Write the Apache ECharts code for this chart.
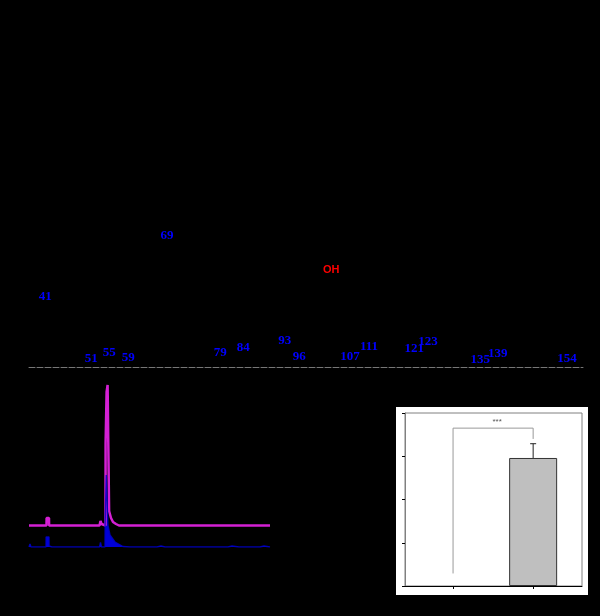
<!DOCTYPE html>
<html>
<head>
<meta charset="utf-8">
<style>html,body{margin:0;padding:0;background:#000}#c{width:600px;height:616px}</style>
<script src="https://cdn.jsdelivr.net/npm/echarts@6/dist/echarts.min.js"></script>
</head>
<body>
<div id="c"></div>
<script>
// Mass spectrum
const peakLabels = ['41','51','55','59','69','79','84','93','96','107','111','121','123','135','139','154'];
const peakMz = [41,51,54.9,59,67.4,78.9,83.9,92.9,96,107,111.1,120.9,123.9,135.2,139,154];
const peakIntensity = [50.4,1.6,6.3,2.4,98.4,6.3,10.2,15.7,3.1,3.1,11,9.4,14.9,0.8,5.5,1.6];

// Chromatograms (time, signal)
const magentaTime = [0,1.75,1.76,2.0,2.01,7.05,7.15,7.25,7.4,7.65,7.66,7.75,7.76,7.85,7.86,8.0,8.01,8.2,8.4,8.7,9,16.65,16.7,16.75,20.2,20.3,20.4,24.1];
const magentaSignal = [21.5,21.5,29,29,21.5,21.5,26,23,21.5,21.5,104,104,155,155,162,162,36,29,25,23,21.5,21.5,23,21.5,21.5,23.5,21.5,21.5];
const blueTime = [0,0.1,0.2,1.7,1.71,2.0,2.01,2.3,3.1,3.2,3.3,4.2,4.3,4.4,7.05,7.15,7.25,7.6,7.61,7.72,7.73,7.88,7.89,8.05,8.1,8.6,9.4,10.1,12.8,13,13.2,13.6,16.6,16.7,16.8,17.5,17.6,19.9,20.3,20.5,21,21.8,22,23.1,23.5,24.1];
const blueSignal = [0,3,0,0,10,10,1,0,0,1.5,0,0,1,0,0,4.5,0,0,22,22,72,72,22,22,12,5,0.5,0,0,1.5,1,0,0,1.5,0,0,1,0,1,1.5,0,0,1,0,1,0];

// Bar panel
const groupPos = [1,2];
const groupValue = [0,29.6];
const groupError = [0,3.3];
const bracketX = [1,1,2,2];
const bracketY = [2.9,36.5,36.5,34];
const sigLabel = '***';

const zip = (a,b)=>a.map((v,i)=>[v,b[i]]);
const chart = echarts.init(document.getElementById('c'), null, {renderer:'canvas'});
chart.setOption({
  animation:false,
  backgroundColor:'#000',
  graphic:[
    {type:'rect',z:-10,shape:{x:396,y:407,width:192,height:188},style:{fill:'#fff'}},
    {type:'text',left:323,top:264,z:5,style:{text:'OH',fill:'#f00',font:'bold 11px "Liberation Sans"'}},
    {type:'text',left:492.5,top:418,z:5,style:{text:sigLabel,fill:'#555',font:'8px "Liberation Sans"'}}
  ],
  grid:[
    {left:29,top:240,width:554,height:127},
    {left:29,top:377,width:241,height:170},
    {left:405,top:413,width:177,height:173,show:true,borderColor:'#808080',borderWidth:1,backgroundColor:'#fff'}
  ],
  xAxis:[
    {gridIndex:0,type:'value',min:37.5,max:157.45,splitLine:{show:false},axisTick:{show:false},axisLabel:{show:false},
      axisLine:{show:true,lineStyle:{color:'#777',width:1,type:[6,2]}}},
    {gridIndex:1,type:'value',min:0,max:24.1,show:false},
    {gridIndex:2,type:'value',min:0.4,max:2.61,splitLine:{show:false},
      axisLine:{show:true,onZero:false,lineStyle:{color:'#000',width:1}},
      axisTick:{show:true,length:3,customValues:groupPos,lineStyle:{color:'#000'}},
      axisLabel:{show:false,customValues:groupPos}}
  ],
  yAxis:[
    {gridIndex:0,type:'value',min:0,max:100,show:false},
    {gridIndex:1,type:'value',min:0,max:170,show:false},
    {gridIndex:2,type:'value',min:0,max:40,interval:10,splitLine:{show:false},
      axisLine:{show:true,lineStyle:{color:'#808080',width:1}},
      axisTick:{show:true,length:3,lineStyle:{color:'#000'}},axisLabel:{show:false}}
  ],
  series:[
    {type:'bar',xAxisIndex:0,yAxisIndex:0,barWidth:1,silent:true,
      itemStyle:{color:'#000'},
      data:peakMz.map((m,i)=>({value:[m,peakIntensity[i]],
        label:{show:true,position:'top',distance:0,formatter:peakLabels[i],color:'#0000ff',
          fontFamily:'Liberation Serif',fontWeight:'bold',fontSize:13}}))},
    {type:'line',xAxisIndex:1,yAxisIndex:1,showSymbol:false,silent:true,
      lineStyle:{color:'#d420d4',width:2.5,cap:'butt',join:'bevel'},data:zip(magentaTime,magentaSignal)},
    {type:'line',xAxisIndex:1,yAxisIndex:1,showSymbol:false,silent:true,
      lineStyle:{color:'#0000c8',width:1.4,opacity:.85,join:'bevel'},
      areaStyle:{color:'#0000f0',opacity:.9,origin:'start'},data:zip(blueTime,blueSignal)},
    {type:'bar',xAxisIndex:2,yAxisIndex:2,barWidth:48,silent:true,
      itemStyle:{color:'#bfbfbf',borderColor:'#333',borderWidth:1},
      data:zip(groupPos,groupValue).filter(d=>d[1]>0)},
    {type:'custom',xAxisIndex:2,yAxisIndex:2,silent:true,
      data:groupPos.map((p,i)=>[p,groupValue[i],groupValue[i]+groupError[i]]).filter(d=>d[1]>0),
      renderItem:(params,api)=>{
        const a=api.coord([api.value(0),api.value(1)]), b=api.coord([api.value(0),api.value(2)]);
        const st={stroke:'#222',lineWidth:1,fill:null};
        return {type:'group',children:[
          {type:'line',shape:{x1:a[0],y1:a[1],x2:b[0],y2:b[1]},style:st},
          {type:'line',shape:{x1:b[0]-3,y1:b[1],x2:b[0]+3,y2:b[1]},style:st}
        ]};
      }},
    {type:'line',xAxisIndex:2,yAxisIndex:2,showSymbol:false,silent:true,
      lineStyle:{color:'#999',width:1},data:zip(bracketX,bracketY)}
  ]
});
</script>
</body>
</html>
